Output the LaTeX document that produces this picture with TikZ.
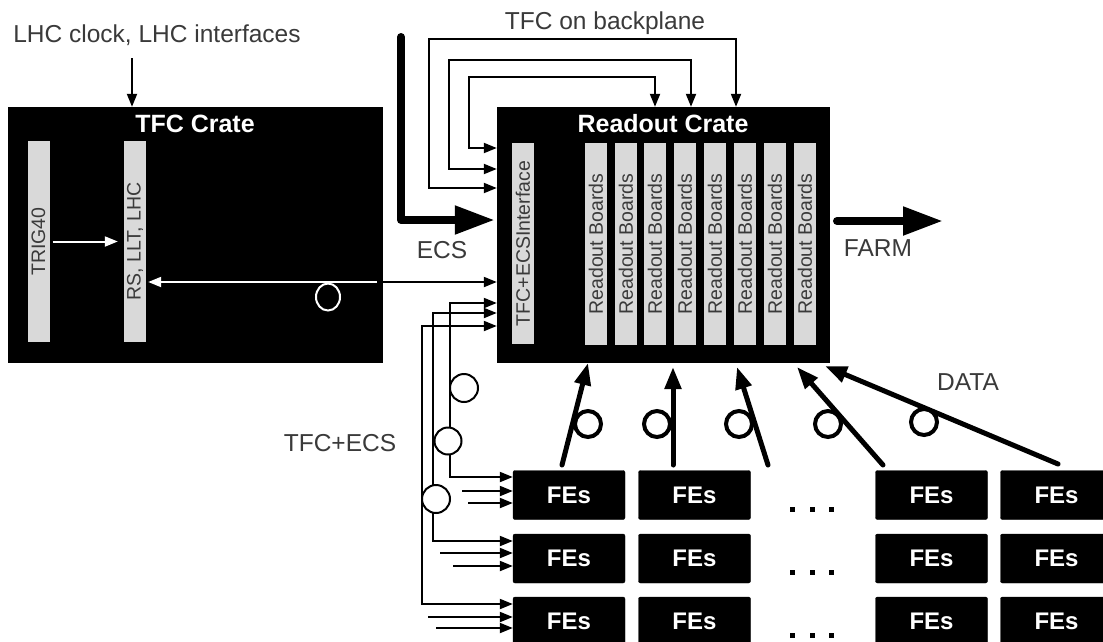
\documentclass[tikz,border=0pt]{standalone}
\usepackage{fontspec}
\setmainfont{Liberation Sans}
\usetikzlibrary{arrows.meta}
\definecolor{txt}{HTML}{3A3A3A}
\definecolor{barc}{HTML}{D9D9D9}
\begin{document}
\begin{tikzpicture}[x=1pt,y=-1pt,
  crate/.style={fill=black,draw=black,inner sep=0,minimum height=255pt},
  bar/.style={fill=barc,draw=none,inner sep=0,minimum width=22pt,minimum height=201pt},
  bartext/.style={rotate=90,font=\fontsize{19.5}{20}\selectfont,text=txt},
  title/.style={font=\bfseries\fontsize{25}{26}\selectfont,text=white,inner sep=0},
  lbl/.style={font=\fontsize{24.5}{26}\selectfont,text=txt,inner sep=0},
  febox/.style={fill=black,draw=black,rounded corners=2pt,inner sep=0,minimum width=112pt,minimum height=49pt,
     font=\bfseries\fontsize{24}{25}\selectfont,text=white},
  sarrow/.style={line width=2pt,-{Triangle[length=13pt,width=10pt]}},
  sboth/.style={line width=2pt,{Triangle[length=13pt,width=10pt]}-{Triangle[length=13pt,width=10pt]}},
  warrow/.style={draw=white,line width=2pt,-{Triangle[length=13pt,width=10pt]}},
  bigarrow/.style={line width=8pt,line cap=round,line join=round,-{Triangle[length=40pt,width=27pt]}},
  darrow/.style={line width=5pt,line cap=round,-{Triangle[length=22pt,width=16pt]}},
  loop/.style={line width=4pt,fill=white},
  tloop/.style={line width=2pt,fill=white},
  dotsq/.style={fill=black}
]
\useasboundingbox (0,0) rectangle (1103,641);
\fill[white] (0,0) rectangle (1103,641);

% ---------- crates ----------
\node[crate,minimum width=374pt] (tfc) at (195,234.5) {};
\node[title] (tfct) at (195,124) {TFC Crate};
\node[bar] (trig) at (38.5,241.5) {};
\node[bartext] at (trig) {TRIG40};
\node[bar] (rs) at (135,241.5) {};
\node[bartext] at (rs) {RS, LLT, LHC};

\node[crate,minimum width=332pt] (rc) at (663,234.5) {};
\node[title] (rct) at (663,124) {Readout Crate};
\node[bar,minimum height=201pt] (intf) at (523,243.5) {};
\node[bartext] at (intf) {TFC+ECSInterface};
\foreach \i/\x in {1/585,2/615,3/644,4/674,5/704,6/734,7/764,8/794}{
  \node[bar,minimum height=202pt] (rb\i) at (\x+11,244) {};
  \node[bartext] at (rb\i) {Readout Boards};
}

% ---------- labels ----------
\node[lbl] (lhcl) at (157,35) {LHC clock, LHC interfaces};
\node[lbl] (tfcb) at (605,23) {TFC on backplane};
\node[lbl] (ecsl) at (442,250) {ECS};
\node[lbl] (farml) at (878,248) {FARM};
\node[lbl] (datal) at (968,382) {DATA};
\node[lbl] (tfcecs) at (340,443) {TFC+ECS};

% ---------- TFC crate internals ----------
\draw[warrow,shorten <=3pt,shorten >=6pt] (trig) -- (rs);
\coordinate (wstart) at (377,282);
\draw[warrow,shorten >=2pt] (wstart) -- (wstart -| rs.east);
\draw[white,line width=2pt] (328,297) ellipse [x radius=12pt, y radius=13.5pt];
\draw[sarrow] (wstart -| tfc.east) -- (wstart -| rc.west);

% LHC clock arrow
\coordinate (lhc) at (132,58);
\draw[sarrow] (lhc) -- (lhc |- tfc.north);

% ---------- TFC on backplane loops ----------
\coordinate (bp1) at (469,77);  \coordinate (bp1r) at (655,77);  \coordinate (bp1y) at (469,148);
\coordinate (bp2) at (449,60);  \coordinate (bp2r) at (691,60);  \coordinate (bp2y) at (449,169);
\coordinate (bp3) at (429,39);  \coordinate (bp3r) at (736,39);  \coordinate (bp3y) at (429,188);
\draw[sboth] (bp1y -| rc.west) -- (bp1y) -- (bp1) -- (bp1r) -- (bp1r |- rc.north);
\draw[sboth] (bp2y -| rc.west) -- (bp2y) -- (bp2) -- (bp2r) -- (bp2r |- rc.north);
\draw[sboth] (bp3y -| rc.west) -- (bp3y) -- (bp3) -- (bp3r) -- (bp3r |- rc.north);

% ---------- ECS and FARM ----------
\coordinate (ecstop) at (401,37);
\coordinate (ecsbend) at (401,220);
\draw[bigarrow] (ecstop) -- (ecsbend) -- ([xshift=-2pt]ecsbend -| rc.west);
\coordinate (farmstart) at (837,221);
\coordinate (farmtip) at (943,221);
\draw[bigarrow] (farmstart) -- (farmtip);

% ---------- FEs ----------
\foreach \r/\y in {1/495,2/558.5,3/621.5}{
  \node[febox] (fe\r1) at (569,\y) {FEs};
  \node[febox] (fe\r2) at (694.5,\y) {FEs};
  \node[febox] (fe\r4) at (931.5,\y) {FEs};
  \node[febox] (fe\r5) at (1056.5,\y) {FEs};
}
\foreach \y in {506.5,569.5,632.5}{
  \fill[dotsq] (789.5,\y) rectangle ++(5.5,5.5);
  \fill[dotsq] (809.5,\y) rectangle ++(5.5,5.5);
  \fill[dotsq] (828.5,\y) rectangle ++(5.5,5.5);
}

% ---------- TFC+ECS fan-out ----------
\coordinate (fa) at (450,303); \coordinate (fab) at (450,477);
\coordinate (fb) at (433,313); \coordinate (fbb) at (433,541);
\coordinate (fc) at (422,326); \coordinate (fcb) at (422,604);
\draw[sboth] (fa -| rc.west) -- (fa) -- (fab) -- (fab -| fe11.west);
\draw[sboth] (fb -| rc.west) -- (fb) -- (fbb) -- (fbb -| fe21.west);
\draw[sboth] (fc -| rc.west) -- (fc) -- (fcb) -- (fcb -| fe31.west);
\coordinate (s12) at (462,491); \coordinate (s13) at (468,503);
\coordinate (s22) at (440,553); \coordinate (s23) at (453,566);
\coordinate (s32) at (428,617); \coordinate (s33) at (436,628);
\foreach \s/\f in {s12/fe11,s13/fe11,s22/fe21,s23/fe21,s32/fe31,s33/fe31}{
  \draw[sarrow] (\s) -- (\s -| \f.west);
}
\draw[tloop] (464,388) circle [radius=14pt];
\draw[tloop] (448,441) circle [radius=13.5pt];
\draw[tloop] (436,499) circle [radius=14pt];

% ---------- DATA ----------
\coordinate (d1s) at (562,465); \coordinate (d1t) at (588,363);
\coordinate (d2s) at (673,465); \coordinate (d2t) at (673,367);
\coordinate (d3s) at (768,465); \coordinate (d3t) at (737,367);
\coordinate (d4s) at (883,465); \coordinate (d4t) at (797,367);
\coordinate (d5s) at (1058,464); \coordinate (d5t) at (825,366);
\foreach \i in {1,...,5}{ \draw[darrow] (d\i s) -- (d\i t); }
\draw[loop] (588,424) circle [radius=13pt];
\draw[loop] (657,424) circle [radius=13pt];
\draw[loop] (739,424) circle [radius=13pt];
\draw[loop] (828,424) circle [radius=13pt];
\draw[loop] (924,422) circle [radius=13pt];
\end{tikzpicture}
\end{document}
